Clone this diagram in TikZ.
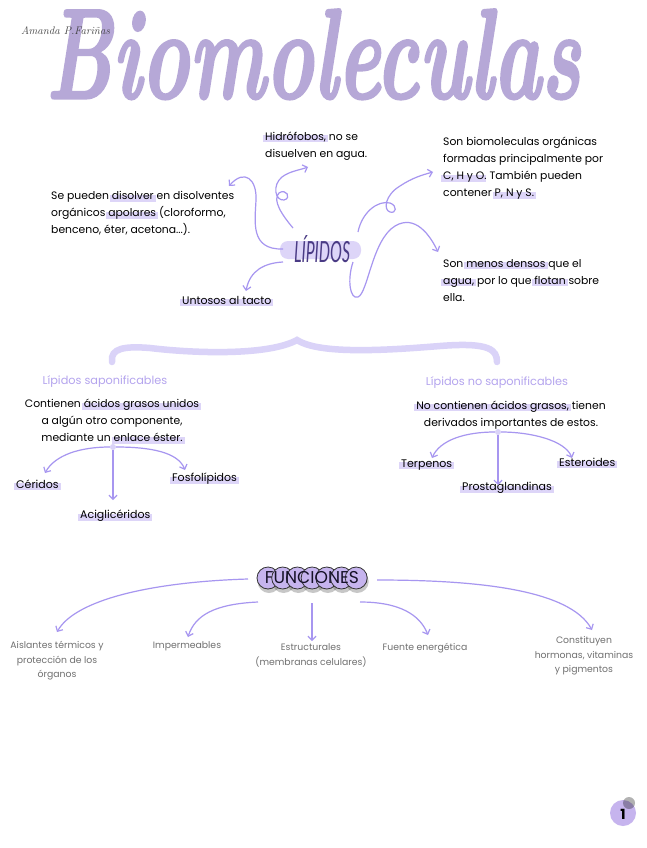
\documentclass[tikz,border=0pt]{standalone}
\usepackage{fontspec}
\newfontfamily\bodyfont{Poppins}
\newfontfamily\lipfont{Lato}
\newfontfamily\titlefont{lmroman10-bolditalic.otf}[FakeBold=2]
\usetikzlibrary{arrows.meta}
\definecolor{titlec}{HTML}{B6A8D7}
\definecolor{arrc}{HTML}{A796F0}
\definecolor{bracec}{HTML}{DAD3F8}
\definecolor{hlc}{HTML}{DDD5F8}
\definecolor{subc}{HTML}{B4A4EE}
\definecolor{lipc}{HTML}{4A3B85}
\definecolor{func}{HTML}{C6B4EE}
\definecolor{grayt}{HTML}{707070}
\newlength\hlwd
\newcommand\hlw[1]{\settowidth\hlwd{#1}\makebox[0pt][l]{\hspace{-2pt}\textcolor{hlc}{\rule[-2pt]{\dimexpr\hlwd+4pt\relax}{7pt}}}#1}
\tikzset{
 arr/.style={draw=arrc, line width=1.2pt, -{Straight Barb[length=4pt,width=8pt]}},
 txt/.style={inner sep=0pt, font=\bodyfont\fontsize{10.8}{17}\selectfont, align=left, anchor=west},
 ctxt/.style={inner sep=0pt, font=\bodyfont\fontsize{10.8}{17}\selectfont, align=center},
 gtxt/.style={inner sep=0pt, font=\bodyfont\fontsize{9.3}{14.5}\selectfont, align=center, text=grayt},
 subh/.style={inner sep=0pt, font=\bodyfont\fontsize{11.3}{13}\selectfont, text=subc},
 leaf/.style={inner sep=0pt, font=\bodyfont\fontsize{11}{13}\selectfont, anchor=west},
 dotc/.style={circle, fill=bracec, inner sep=0pt, minimum size=6pt},
}
\begin{document}
\begin{tikzpicture}[x=1pt,y=-1pt]
\useasboundingbox (0,0) rectangle (646,848);
\fill[white] (0,0) rectangle (646,848);
% title
\node[inner sep=0pt, anchor=north west, text=titlec] (title) at (46,9) {\resizebox{534pt}{89pt}{\titlefont Biomoleculas}};
\node[inner sep=0pt, anchor=west, text=black!75, font=\itshape\fontsize{11}{11}\selectfont] (auth) at (21,31) {Amanda P.Fariñas};
% LIPIDOS
\fill[hlc, rounded corners=8pt] (280,241) rectangle (361,259);
\node[inner sep=0pt, text=lipc] (lip) at (322,249) {\resizebox{56pt}{27pt}{\lipfont\itshape LÍPIDOS}};
\node[txt] (hid) at (265,146) {\hlw{Hidrófobos,} no se\\disuelven en agua.};
\node[txt] (bio) at (443,168.5) {Son biomoleculas orgánicas\\formadas principalmente por\\\hlw{C, H y O}. También pueden\\contener \hlw{P, N y S.}};
\node[txt] (dis) at (51,213.5) {Se pueden \hlw{disolver} en disolventes\\orgánicos \hlw{apolares} (cloroformo,\\benceno, éter, acetona...).};
\node[txt] (den) at (443,280.5) {Son \hlw{menos densos} que el\\\hlw{agua,} por lo que \hlw{flotan} sobre\\ella.};
\node[leaf] (unt) at (182,301) {\hlw{Untosos al tacto}};
% arrows top
\coordinate (a1s) at (283,249); \coordinate (a1e) at (229,186);
\draw[arr] (a1s) .. controls (250,250) and (255,222) .. (256,200) .. controls (257,180) and (245,168) .. (a1e);
\coordinate (a2s) at (293,228); \coordinate (a2e) at (308,167);
\draw[arr] (a2s) .. controls (282,215) and (272,200) .. (279,193) .. controls (286,188) and (292,198) .. (284,200) .. controls (275,201) and (272,185) .. (282,177) .. controls (290,171) and (300,170) .. (a2e);
\coordinate (a3s) at (358,232); \coordinate (a3e) at (433,172);
\draw[arr] (a3s) .. controls (362,212) and (378,200) .. (390,203) .. controls (398,206) and (396,214) .. (390,212) .. controls (383,210) and (385,195) .. (400,186) .. controls (412,178) and (422,175) .. (a3e);
\coordinate (a4s) at (353,262); \coordinate (a4e) at (438,252);
\draw[arr] (a4s) .. controls (347,280) and (350,300) .. (358,297) .. controls (368,293) and (372,240) .. (395,226) .. controls (415,214) and (430,235) .. (a4e);
\coordinate (a5s) at (283,262); \coordinate (a5e) at (246,291);
\draw[arr] (a5s) .. controls (265,263) and (250,270) .. (a5e);
% brace
\draw[bracec, line width=6.5pt, line cap=round] (112,362) .. controls (110,348) and (125,346) .. (150,348) .. controls (200,354) and (270,355) .. (297,340) .. controls (320,355) and (390,350) .. (440,346) .. controls (490,342) and (497,350) .. (497,362);
% saponificables
\node[subh] (sap) at (105,382) {Lípidos saponificables};
\node[ctxt] (sapt) at (112,421.5) {Contienen \hlw{ácidos grasos unidos}\\a algún otro componente,\\mediante un \hlw{enlace éster.}};
\node[dotc] (sd) at (113,447) {};
\node[leaf] (cer) at (16,485) {\hlw{Céridos}};
\node[leaf] (fos) at (172,479) {\hlw{Fosfolípidos}};
\node[leaf] (aci) at (80,516) {\hlw{Aciglicéridos}};
\coordinate (s1) at (45,473); \coordinate (s2) at (113,500); \coordinate (s3) at (185,470);
\draw[arr] (sd) .. controls (80,447) and (55,455) .. (s1);
\draw[arr] (sd) -- (s2);
\draw[arr] (sd) .. controls (150,447) and (178,452) .. (s3);
% no saponificables
\node[subh] (nsap) at (497,383) {Lípidos no saponificables};
\node[ctxt] (nsapt) at (511,415) {\hlw{No contienen ácidos grasos,} tienen\\derivados importantes de estos.};
\node[dotc] (nd) at (498,432) {};
\node[leaf] (ter) at (401,465) {\hlw{Terpenos}};
\node[leaf] (est) at (559,463) {\hlw{Esteroides}};
\node[leaf] (pro) at (462,488) {\hlw{Prostaglandinas}};
\coordinate (n1) at (432,458); \coordinate (n2) at (498,485); \coordinate (n3) at (572,458);
\draw[arr] (nd) .. controls (465,432) and (440,440) .. (n1);
\draw[arr] (nd) -- (n2);
\draw[arr] (nd) .. controls (530,432) and (565,440) .. (n3);
% funciones
\foreach \i in {0,...,6} {\fill[black, opacity=0.22] ({268+\i*14.7+1},581.5) circle (11.5pt);}
\foreach \i in {0,...,6} {\filldraw[fill=func, draw=black!80, line width=0.8pt] ({268+\i*14.7},578) circle (11pt);}
\node[inner sep=0pt, text=black!70!lipc] (fn) at (312,578) {\resizebox{94pt}{!}{\bodyfont FUNCIONES}};
\node[gtxt] (f1) at (57,661) {Aislantes térmicos y\\protección de los\\órganos};
\node[gtxt] (f2) at (187,646) {Impermeables};
\node[gtxt] (f3) at (311,655.5) {Estructurales\\(membranas celulares)};
\node[gtxt] (f4) at (425,648) {Fuente energética};
\node[gtxt] (f5) at (584,656) {Constituyen\\hormonas, vitaminas\\y pigmentos};
\coordinate (g1s) at (248,579); \coordinate (g1e) at (57,632);
\coordinate (g2s) at (258,602); \coordinate (g2e) at (188,637);
\coordinate (g3s) at (312,603); \coordinate (g3e) at (312,641);
\coordinate (g4s) at (360,602); \coordinate (g4e) at (428,635);
\coordinate (g5s) at (377,580); \coordinate (g5e) at (592,630);
\draw[arr] (g1s) .. controls (150,582) and (75,600) .. (g1e);
\draw[arr] (g2s) .. controls (215,604) and (195,615) .. (g2e);
\draw[arr] (g3s) -- (g3e);
\draw[arr] (g4s) .. controls (400,602) and (420,615) .. (g4e);
\draw[arr] (g5s) .. controls (480,580) and (570,590) .. (g5e);
% page number
\fill[func] (623,813) circle (13pt);
\fill[black, opacity=0.3] (629,803) circle (6pt);
\node[inner sep=0pt, font=\bodyfont\bfseries\fontsize{14}{14}\selectfont] (pg) at (623,814) {1};
\end{tikzpicture}
\end{document}
